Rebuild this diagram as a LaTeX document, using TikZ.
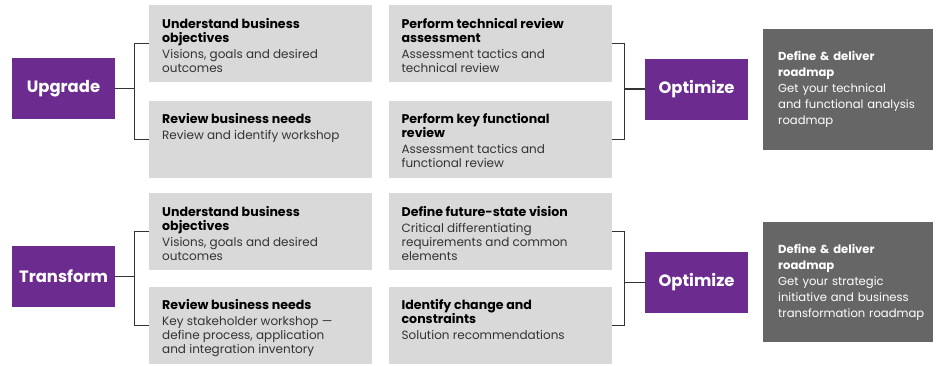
\documentclass[tikz,border=0pt]{standalone}
\usepackage{fontspec}
\setmainfont{Poppins}
\usepackage{xcolor}
\usepackage{tikz}
\usetikzlibrary{positioning,calc}
\definecolor{brand}{HTML}{6C2C8F}
\definecolor{soft}{HTML}{D9D9D9}
\definecolor{deep}{HTML}{666666}
\definecolor{ink}{HTML}{333333}

% text of a grey card: bold title, then the body
\newcommand{\cardtxt}[2]{%
  \begin{minipage}[c][77pt][t]{197pt}\raggedright
    \fontsize{12}{14}\selectfont
    \rule{0pt}{23pt}{\fontsize{12.6}{14}\selectfont\textbf{#1}}\\[2pt]
    {\color{ink}#2}%
  \end{minipage}}
% text of a dark roadmap box, 15pt in from the left
\newcommand{\roadtxt}[1]{\hspace*{15pt}\parbox[c]{155pt}{\raggedright #1}}

\begin{document}
\begin{tikzpicture}[x=1pt, y=-1pt,
  node distance=16pt,
  card/.style={fill=soft, inner xsep=13pt, inner ysep=0pt, anchor=north west},
  tag/.style={fill=brand, text=white, minimum width=103pt, minimum height=61pt,
              inner sep=0pt, font=\fontsize{16.4}{18}\selectfont\bfseries},
  road/.style={fill=deep, text=white, text width=170pt, inner sep=0pt,
               minimum height=121pt, align=left, anchor=north west,
               font=\fontsize{11.6}{16}\selectfont},
  link/.style={draw=ink, line width=1.1pt}
]
\useasboundingbox (0,0) rectangle (938,365);

% upgrade row
\node[card] (u1) at (149,5) {\cardtxt{Understand business\\objectives}{Visions, goals and desired\\outcomes}};
\node[card, below=18pt of u1] (u2) {\cardtxt{Review business needs}{Review and identify workshop}};
\node[card, right=of u1] (r1) {\cardtxt{Perform technical review\\assessment}{Assessment tactics and\\technical review}};
\node[card, right=of u2] (r2) {\cardtxt{Perform key functional\\review}{Assessment tactics and\\functional review}};
\node[tag] (up) at (63.5,88.5) {Upgrade};
\node[tag] (o1) at (696.5,89) {Optimize};
\node[road] (m1) at (763,29) {\roadtxt{\textbf{Define \& deliver}\\\textbf{roadmap}\\Get your technical\\and functional analysis\\roadmap}};

% transform row
\node[card] (t1) at (149,193) {\cardtxt{Understand business\\objectives}{Visions, goals and desired\\outcomes}};
\node[card, below=16pt of t1] (t2) {\cardtxt{Review business needs}{Key stakeholder workshop ---\\define process, application\\and integration inventory}};
\node[card, right=of t1] (s1) {\cardtxt{Define future-state vision}{Critical differentiating\\requirements and common\\elements}};
\node[card, right=of t2] (s2) {\cardtxt{Identify change and\\constraints}{Solution recommendations}};
\node[tag] (tr) at (63.5,276.5) {Transform};
\node[tag] (o2) at (696.5,282.5) {Optimize};
\node[road, minimum height=120pt] (m2) at (763,222) {\roadtxt{\textbf{Define \& deliver}\\\textbf{roadmap}\\Get your strategic\\initiative and business\\transformation roadmap}};

% brackets
\foreach \g/\a/\b/\o/\c/\d/\e in {up/u1/u2/o1/r1/r2/1, tr/t1/t2/o2/s1/s2/2} {
  \coordinate (lb\e) at ($(\g.east)+(19,0)$);
  \coordinate (rb\e) at ($(\o.west)+(-20,0)$);
  \draw[link] (\a.west) -| (lb\e) |- (\b.west);
  \draw[link] (\g) -- (lb\e);
  \draw[link] (\c.east) -| (rb\e) |- (\d.east);
  \draw[link] (rb\e) -- (\o);
}
\end{tikzpicture}
\end{document}
